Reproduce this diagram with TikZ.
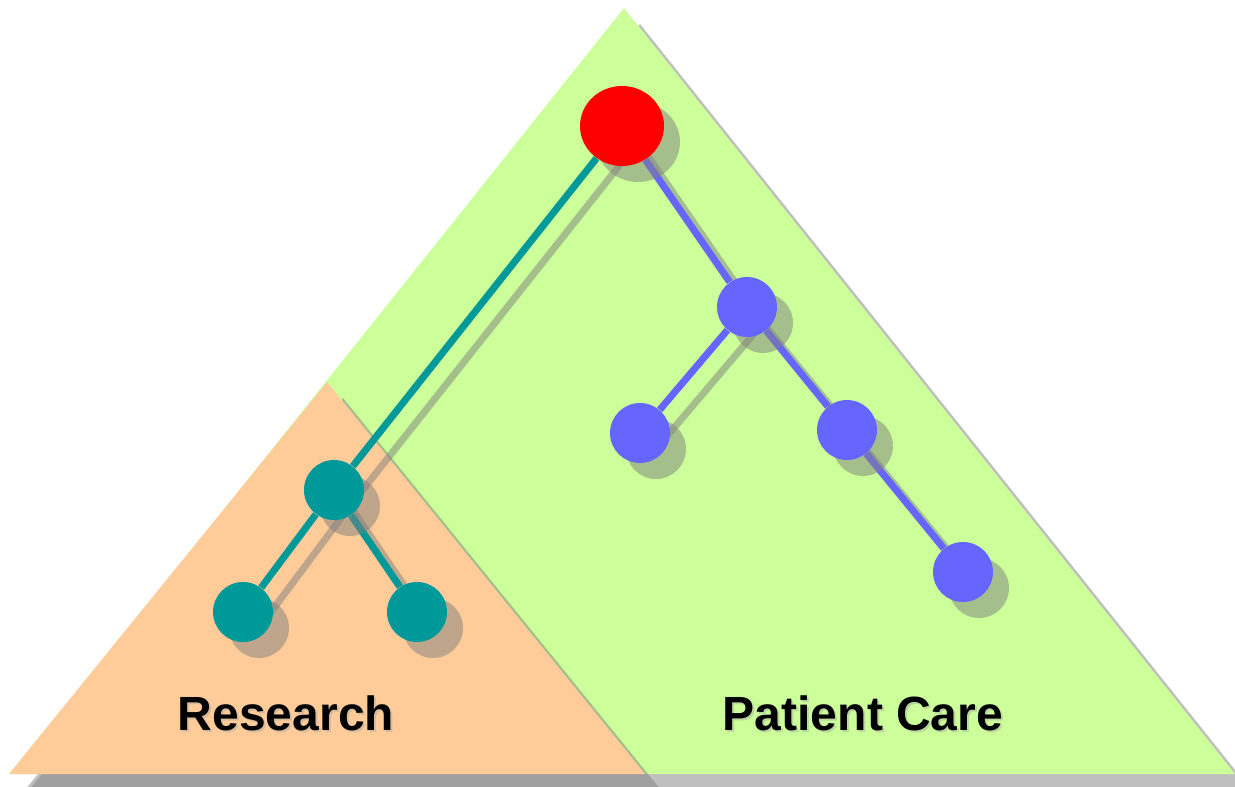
\documentclass[tikz,border=0pt]{standalone}
\usepackage{fontspec}
\setmainfont{Liberation Sans}
\usetikzlibrary{shapes.geometric,shadows,backgrounds}
\definecolor{leafgreen}{HTML}{CCFF99}
\definecolor{peach}{HTML}{FFCC99}
\definecolor{tealnode}{HTML}{009999}
\definecolor{bluenode}{HTML}{6666FF}
\begin{document}
\begin{tikzpicture}[
      x=0.5pt, y=-0.5pt,
      shade/.style={fill=black!50,opacity=0.5},
      lift/.style={xshift=8pt,yshift=-8pt},
      blob/.style={circle,inner sep=0pt,minimum size=30pt,
        drop shadow={shadow xshift=8pt,shadow yshift=-8pt}},
      rootnode/.style={ellipse,inner sep=0pt,minimum width=42pt,minimum height=40pt,fill=red,
        drop shadow={shadow xshift=8pt,shadow yshift=-8pt}},
      resnode/.style={blob,fill=tealnode},
      carenode/.style={blob,fill=bluenode},
      link/.style={line width=3.5pt},
      linkshade/.style={line width=3.5pt,draw=black!50,opacity=0.5},
      caption/.style={anchor=base,font=\fontsize{24}{28}\selectfont\bfseries},
      captionshade/.style={caption,text=black!35,opacity=0.45}
    ]
    \useasboundingbox (0,0) rectangle (1235,786);
    % Draw the nodes.
    \node[rootnode] (root)     at (622,126) {};
    \node[resnode]  (res)      at (334,490) {};
    \node[resnode]  (resL)     at (243,612) {};
    \node[resnode]  (resR)     at (417,612) {};
    \node[carenode] (care)     at (747,307) {};
    \node[carenode] (careL)    at (640,433) {};
    \node[carenode] (careR)    at (847,430) {};
    \node[carenode] (careLeaf) at (963,572) {};
    \begin{pgfonlayer}{background}
    % Draw the two areas.
    \fill[shade] (640,24) -- (1251,790) -- (29,790) -- cycle;
    \fill[leafgreen] (624,8) -- (1235,774) -- (13,774) -- cycle;
    \fill[shade] (343,398) -- (661,790) -- (25,790) -- cycle;
    \fill[peach] (327,382) -- (645,774) -- (9,774) -- cycle;
    % Draw the links.
    \draw[linkshade] ([lift]root.center) -- ([lift]res.center);
    \draw[link,tealnode] (root) -- (res);
    \draw[linkshade] ([lift]res.center) -- ([lift]resL.center);
    \draw[link,tealnode] (res) -- (resL);
    \draw[linkshade] ([lift]res.center) -- ([lift]resR.center);
    \draw[link,tealnode] (res) -- (resR);
    \draw[linkshade] ([lift]root.center) -- ([lift]care.center);
    \draw[link,bluenode] (root) -- (care);
    \draw[linkshade] ([lift]care.center) -- ([lift]careL.center);
    \draw[link,bluenode] (care) -- (careL);
    \draw[linkshade] ([lift]care.center) -- ([lift]careR.center);
    \draw[link,bluenode] (care) -- (careR);
    \draw[linkshade] ([lift]careR.center) -- ([lift]careLeaf.center);
    \draw[link,bluenode] (careR) -- (careLeaf);
    \end{pgfonlayer}
    % Draw the labels.
    \node[captionshade] (researchShade) at (288,732) {Research};
    \node[caption] (research) at (286,730) {Research};
    \node[captionshade] (careShade) at (865,732) {Patient Care};
    \node[caption] (careText) at (863,730) {Patient Care};
\end{tikzpicture}
\end{document}
